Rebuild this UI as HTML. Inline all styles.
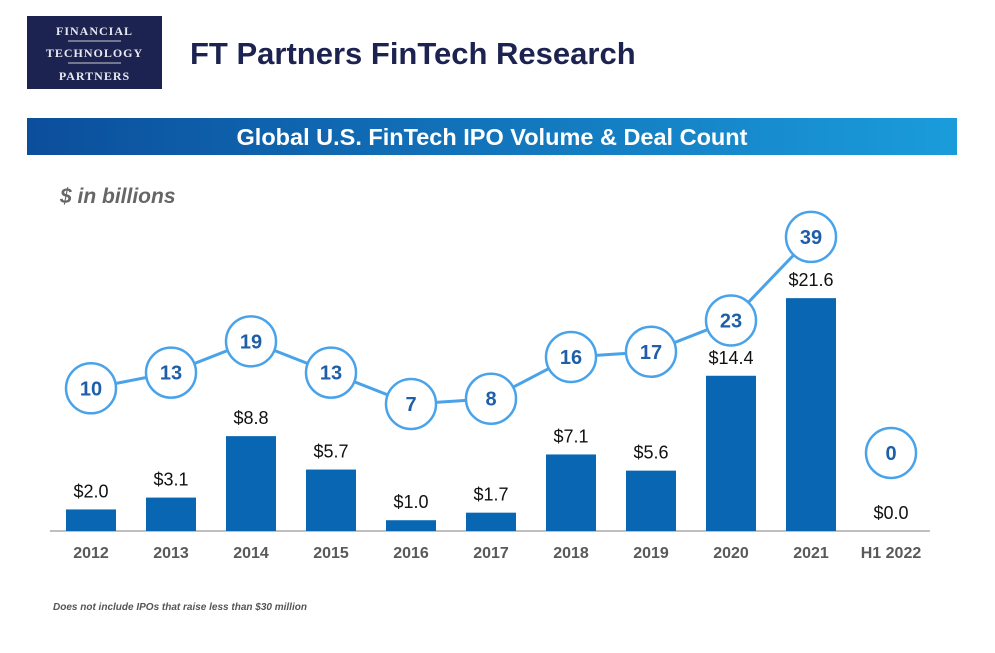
<!DOCTYPE html>
<html><head><meta charset="utf-8"><style>
body{margin:0;width:995px;height:648px;background:#fff;overflow:hidden;font-family:"Liberation Sans",sans-serif}
</style></head><body>
<svg width="995" height="648" viewBox="0 0 995 648" xmlns="http://www.w3.org/2000/svg">
<defs><linearGradient id="g" x1="0" x2="1"><stop offset="0" stop-color="#0b4e9c"/><stop offset="1" stop-color="#1a9cdb"/></linearGradient></defs>
<g>
<rect x="27" y="16" width="135" height="73" fill="#1d2350"/>
<text x="94.5" y="35" fill="#e8e8ee" font-family="Liberation Serif,serif" font-size="12" font-weight="bold" text-anchor="middle" letter-spacing="1">FINANCIAL</text>
<line x1="68" y1="41" x2="121" y2="41" stroke="#ccc" stroke-width="1"/>
<text x="94.5" y="57" fill="#e8e8ee" font-family="Liberation Serif,serif" font-size="12" font-weight="bold" text-anchor="middle" letter-spacing="1">TECHNOLOGY</text>
<line x1="68" y1="63" x2="121" y2="63" stroke="#ccc" stroke-width="1"/>
<text x="94.5" y="80" fill="#e8e8ee" font-family="Liberation Serif,serif" font-size="12" font-weight="bold" text-anchor="middle" letter-spacing="1">PARTNERS</text>
</g>
<text x="190" y="64" fill="#1d2350" font-size="31" font-weight="bold">FT Partners FinTech Research</text>
<rect x="27" y="118" width="930" height="37" fill="url(#g)"/>
<text x="492" y="145" fill="#fff" font-size="23.5" font-weight="bold" text-anchor="middle">Global U.S. FinTech IPO Volume &amp; Deal Count</text>
<text x="60" y="203" fill="#666" font-size="21" font-style="italic" font-weight="bold">$ in billions</text>
<line x1="50" y1="531" x2="930" y2="531" stroke="#aaa" stroke-width="1.5"/>
<g id="marks"></g>
<text x="53" y="610" fill="#555" font-size="10" font-style="italic" font-weight="bold">Does not include IPOs that raise less than $30 million</text>
</svg>
<script>
const categories=["2012","2013","2014","2015","2016","2017","2018","2019","2020","2021","H1 2022"];
const volumes=[2.0,3.1,8.8,5.7,1.0,1.7,7.1,5.6,14.4,21.6,0.0];
const counts=[10,13,19,13,7,8,16,17,23,39,0];
const NS="http://www.w3.org/2000/svg";
const g=document.getElementById('marks');
const xC=i=>91+i*80;
const yV=v=>531-v*10.78;
const yC=c=>440.5-c*5.22;
function mk(t,a){const e=document.createElementNS(NS,t);for(const k in a)e.setAttribute(k,a[k]);g.appendChild(e);return e;}
categories.forEach((c,i)=>{
  const b=mk('rect',{x:xC(i)-25,y:yV(volumes[i]),width:50,height:531-yV(volumes[i]),fill:'#0866b3'});
  
  
  const t=mk('text',{x:xC(i),y:yV(volumes[i])-12,'text-anchor':'middle','font-size':18,fill:'#111'});
  t.textContent='$'+volumes[i].toFixed(1);
  
  
  const l=mk('text',{x:xC(i),y:558,'text-anchor':'middle','font-size':16,'font-weight':'bold',fill:'#595959'});
  l.textContent=c;
  
  
});
const n=categories.length-1;
let pts=[];for(let i=0;i<n;i++)pts.push(xC(i)+','+yC(counts[i]));
const pl=mk('polyline',{points:pts.join(' '),fill:'none',stroke:'#4aa3e8','stroke-width':3});


counts.forEach((c,i)=>{
  const cy=i===n?453:yC(c);
  const ci=mk('circle',{cx:xC(i),cy:cy,r:25,fill:'#fff',stroke:'#4aa3e8','stroke-width':2.5});
  
  
  const t=mk('text',{x:xC(i),y:cy+7,'text-anchor':'middle','font-size':20,'font-weight':'bold',fill:'#1f5ea8'});
  t.textContent=c;
  
  
});
</script>
</body></html>
